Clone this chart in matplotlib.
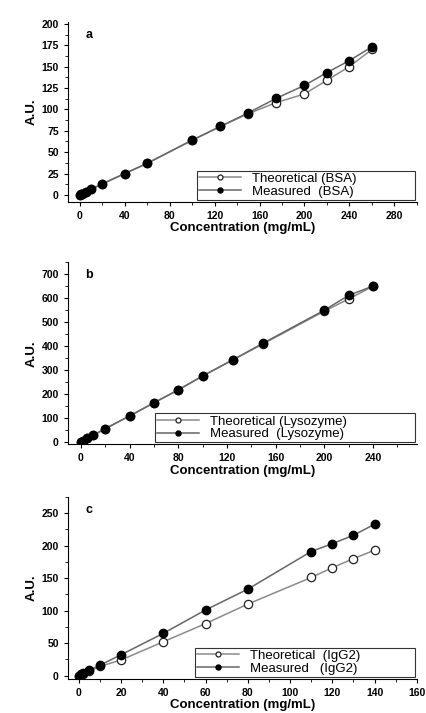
import numpy as np
import matplotlib
matplotlib.use('Agg')
import matplotlib.pyplot as plt
from matplotlib.ticker import MultipleLocator

plt.rcParams['font.family'] = ['Liberation Sans', 'DejaVu Sans']

# Panel a: BSA
bsa_x = [0, 1, 2, 5, 10, 20, 40, 60, 100, 125, 150, 175, 200, 220, 240, 260]
bsa_theo = [0, 0.7, 1.3, 3.3, 6.5, 13, 25, 37, 64, 80, 95, 108, 118, 134, 150, 170]
bsa_meas = [0, 0.7, 1.3, 3.3, 6.5, 13, 25, 37, 64, 80, 96, 113, 128, 143, 157, 173]

# Panel b: Lysozyme
lys_x = [0, 2, 5, 10, 20, 40, 60, 80, 100, 125, 150, 200, 220, 240]
lys_theo = [0, 5, 14, 27, 55, 108, 163, 217, 275, 343, 410, 546, 597, 650]
lys_meas = [0, 5, 14, 27, 55, 108, 163, 217, 275, 343, 413, 550, 612, 651]

# Panel c: IgG2
igg_x = [0, 1, 2, 5, 10, 20, 40, 60, 80, 110, 120, 130, 140]
igg_theo = [0, 1.4, 2.8, 7, 14, 24, 52, 80, 110, 151, 166, 180, 193]
igg_meas = [0, 1.6, 3.3, 8, 16, 32, 65, 101, 133, 191, 203, 216, 233]

fig = plt.figure(figsize=(4.27, 7.13), dpi=100)

panels = [
    dict(rect=[0.159, 0.717, 0.817, 0.252], x=bsa_x, t=bsa_theo, m=bsa_meas,
         xlim=(-10.7, 300), ylim=(-8, 202), xmaj=40, ymaj=25, letter='a',
         lt='Theoretical (BSA)', lm='Measured  (BSA)', lbox=(0.37, 0.625)),
    dict(rect=[0.159, 0.377, 0.817, 0.255], x=lys_x, t=lys_theo, m=lys_meas,
         xlim=(-10.7, 276), ylim=(-10, 750), xmaj=40, ymaj=100, letter='b',
         lt='Theoretical (Lysozyme)', lm='Measured  (Lysozyme)', lbox=(0.25, 0.745)),
    dict(rect=[0.159, 0.048, 0.817, 0.255], x=igg_x, t=igg_theo, m=igg_meas,
         xlim=(-5.2, 160), ylim=(-5, 275), xmaj=20, ymaj=50, letter='c',
         lt='Theoretical  (IgG2)', lm='Measured   (IgG2)', lbox=(0.365, 0.63)),
]

for p in panels:
    ax = fig.add_axes(p['rect'])
    ax.plot(p['x'], p['t'], '-o', color='#8a8a8a', lw=1.1, ms=6,
            mfc='white', mec='#222222', mew=0.9, label=p['lt'])
    ax.plot(p['x'], p['m'], '-o', color='#666666', lw=1.1, ms=6,
            mfc='black', mec='black', label=p['lm'])
    ax.set_xlim(*p['xlim'])
    ax.set_ylim(*p['ylim'])
    ax.xaxis.set_major_locator(MultipleLocator(p['xmaj']))
    ax.xaxis.set_minor_locator(MultipleLocator(p['xmaj'] / 2))
    ax.yaxis.set_major_locator(MultipleLocator(p['ymaj']))
    ax.yaxis.set_minor_locator(MultipleLocator(p['ymaj'] / 2))
    ax.set_xticks([v for v in ax.get_xticks() if 0 <= v <= p['xlim'][1]])
    ax.set_yticks([v for v in ax.get_yticks() if 0 <= v <= p['ylim'][1]])
    ax.tick_params(which='both', direction='out', labelsize=7.5)
    ax.tick_params(which='major', length=3)
    ax.tick_params(which='minor', length=2)
    for lab in ax.get_xticklabels() + ax.get_yticklabels():
        lab.set_fontweight('bold')
    for side in ['top', 'right']:
        ax.spines[side].set_visible(False)
    ax.set_xlabel('Concentration (mg/mL)', fontsize=9.5, fontweight='bold', labelpad=1)
    ax.set_ylabel('A.U.', fontsize=9.5, fontweight='bold', labelpad=3)
    ax.text(0.05, 0.93, p['letter'], transform=ax.transAxes, fontsize=9,
            fontweight='bold', va='center')
    x0, w = p['lbox']
    leg = ax.legend(loc='lower left', bbox_to_anchor=(x0, 0.01, w, 0.1),
                    mode='expand', fontsize=9.5, frameon=True, fancybox=False,
                    edgecolor='black', borderaxespad=0.0, handlelength=3.2,
                    borderpad=0.15, labelspacing=0.05, markerscale=0.6,
                    handletextpad=0.8)
    leg.get_frame().set_linewidth(0.8)

fig.savefig('out.png', dpi=100)
